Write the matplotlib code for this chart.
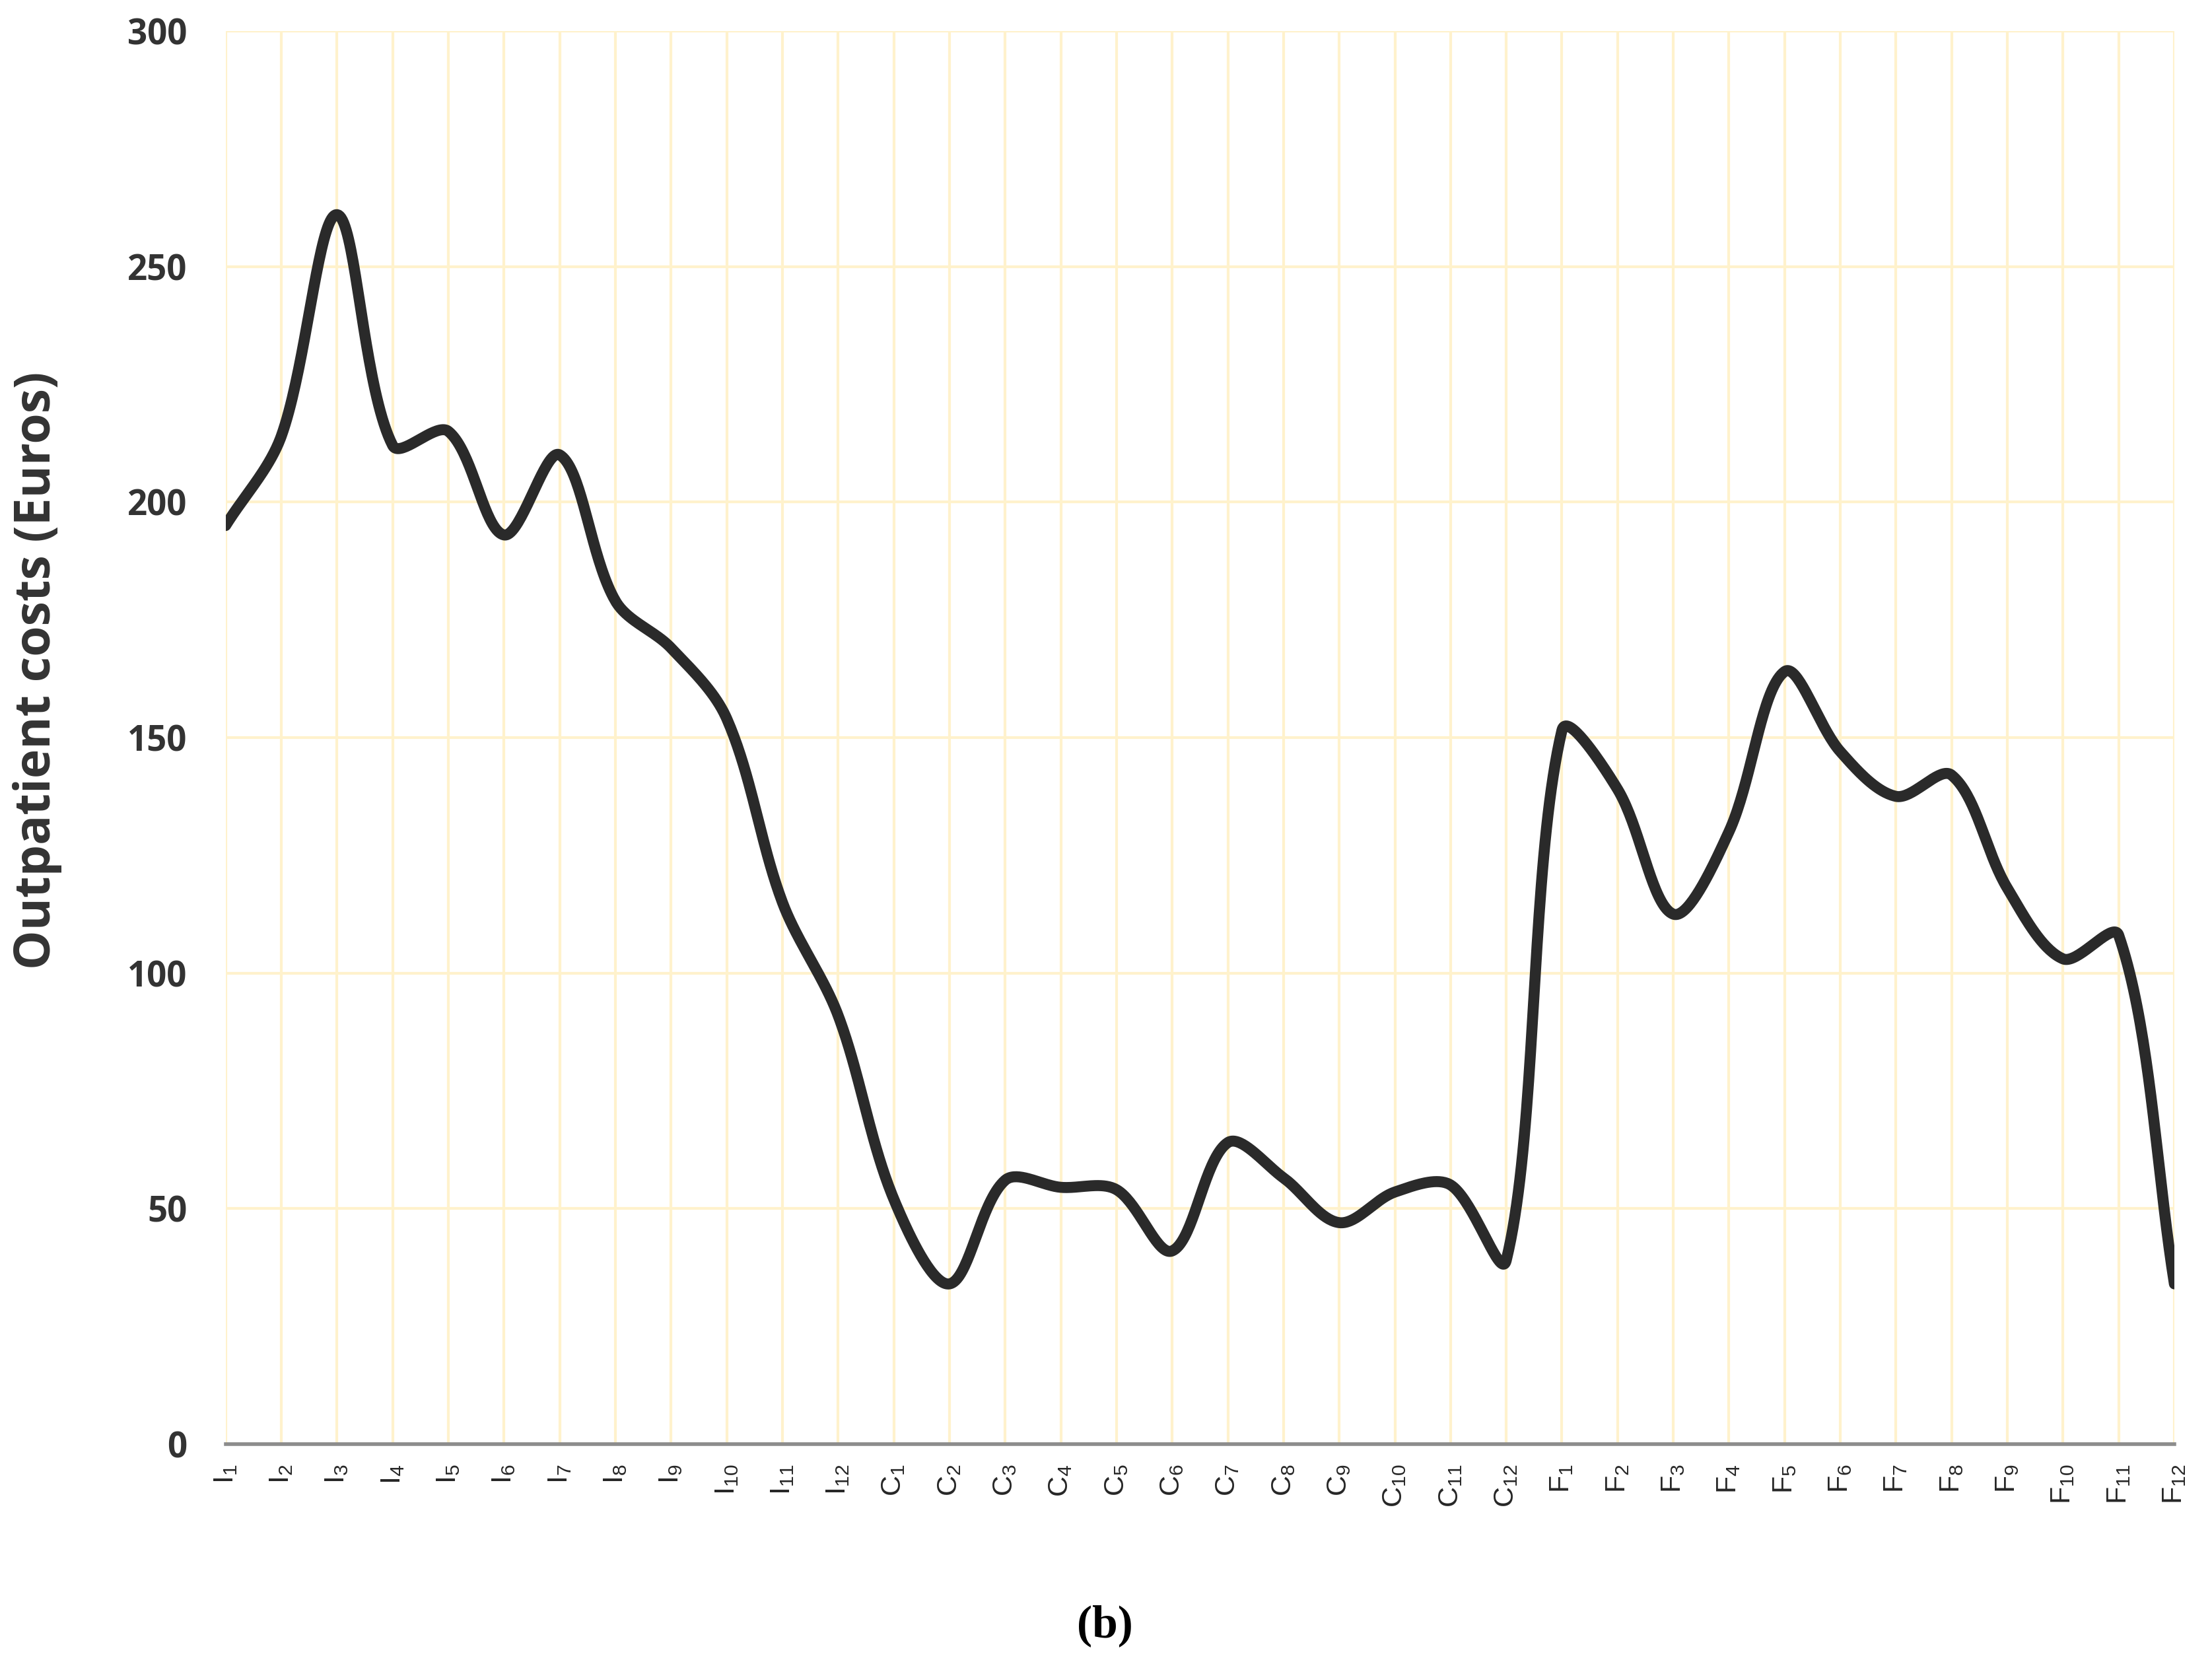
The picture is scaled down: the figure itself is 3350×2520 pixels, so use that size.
import numpy as np
import matplotlib
matplotlib.use("Agg")
import matplotlib.pyplot as plt

# categories: intervention (I), control (C), follow-up (F) months
groups = ["I", "C", "F"]
months = list(range(1, 13))
tick_labels = [r"$\mathregular{" + g + "_{" + str(m) + "}}$" for g in groups for m in months]

# outpatient costs (Euros)
costs = [195, 214, 261, 212, 215, 193, 210, 179, 169, 154, 115, 91,
         52, 34, 56, 54.5, 54, 41, 64, 56.5, 47, 53.5, 55, 39,
         151.5, 139, 112.5, 130, 164, 147, 137.5, 142, 118, 103, 108, 34]

y_ticks = [0, 50, 100, 150, 200, 250, 300]


def smooth_line(x, y, sx=1.0, sy=1.0, n=40):
    # spreadsheet-style smoothed line: Bezier segments whose handles are
    # weighted by the on-screen chord lengths (sx, sy = pixels per unit)
    x = np.asarray(x, dtype=float)
    y = np.asarray(y, dtype=float)
    pts = np.column_stack([x, y])
    scr = np.column_stack([x * sx, y * sy])
    m = len(pts)
    out_h = np.zeros_like(pts)
    in_h = np.zeros_like(pts)
    for i in range(m):
        prev = max(i - 1, 0)
        nxt = min(i + 1, m - 1)
        tan = pts[nxt] - pts[prev]
        d1 = np.hypot(*(scr[i] - scr[prev]))
        d2 = np.hypot(*(scr[nxt] - scr[i]))
        tot = d1 + d2 if d1 + d2 > 0 else 1
        out_h[i] = pts[i] + tan * d2 / tot / 3
        in_h[i] = pts[i] - tan * d1 / tot / 3
    t = np.linspace(0, 1, n)[:, None]
    xs, ys = [], []
    for i in range(m - 1):
        b = (1 - t) ** 3 * pts[i] + 3 * (1 - t) ** 2 * t * out_h[i] \
            + 3 * (1 - t) * t ** 2 * in_h[i + 1] + t ** 3 * pts[i + 1]
        xs.append(b[:, 0])
        ys.append(b[:, 1])
    return np.concatenate(xs), np.concatenate(ys)


fig = plt.figure(figsize=(33.5, 25.2), dpi=100)
ax = fig.add_axes([0.102, 0.1322, 0.881, 0.8492])

x = np.arange(len(costs))
ax_w = 0.881 * 3350
ax_h = 0.8492 * 2520
lx, ly = smooth_line(x, costs, sx=ax_w / (len(costs) - 1), sy=ax_h / 300)
ax.plot(lx, ly, color="#2a2a2a", linewidth=12, solid_capstyle="round", zorder=3)

ax.set_xlim(0, len(costs) - 1)
ax.set_ylim(0, 300)
ax.set_xticks(x)
ax.set_xticklabels(tick_labels, rotation=90, fontsize=31, family="Liberation Sans", color="#262626")
ax.set_yticks(y_ticks)
ax.set_yticklabels([str(v) for v in y_ticks], fontsize=38, fontweight="bold",
                   family="Open Sans", color="#333333")
ax.tick_params(axis="both", length=0)
ax.tick_params(axis="y", pad=42)
ax.tick_params(axis="x", pad=22)

ax.grid(True, color="#FFF2CC", linewidth=3, zorder=0)
ax.set_axisbelow(True)
for s in ["top", "right", "left"]:
    ax.spines[s].set_visible(False)
ax.spines["bottom"].set_color("#8c8c8c")
ax.spines["bottom"].set_linewidth(4)

fig.text(0.017, 0.597, "Outpatient costs (Euros)", rotation=90, ha="center", va="center",
         fontsize=54, fontweight="bold", family="Open Sans", color="#333333")
fig.text(0.4994, 0.023, "(b)", ha="center", va="center", fontsize=50,
         fontweight="bold", family="Liberation Serif", color="black")

fig.savefig("out.png", dpi=100, facecolor="white")
